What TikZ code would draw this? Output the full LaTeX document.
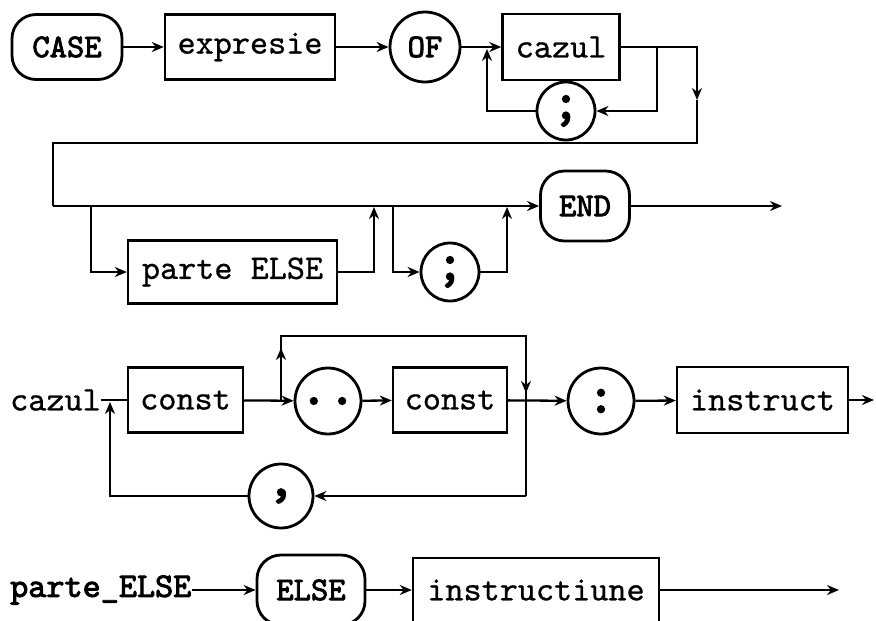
\documentclass[tikz,border=0pt]{standalone}
\usepackage{fontspec}
\newfontfamily\regtt[FakeBold=0.7]{lmmono10-regular.otf}
\newfontfamily\boldtt[FakeBold=2.6]{lmmono10-regular.otf}
\usetikzlibrary{arrows.meta}
\begin{document}
\begin{tikzpicture}[x=1pt,y=-1pt,
  every node/.style={font=\regtt\fontsize{34.5}{38}\selectfont, inner sep=0pt},
  line/.style={line width=2.3pt, line join=miter},
  arr/.style={line, -{Stealth[length=12pt,width=10pt]}},
  box/.style={draw, line width=2.4pt, rectangle},
  kw/.style={draw, line width=2.8pt, rounded corners=24pt, font=\boldtt\fontsize{33}{38}\selectfont},
  circ/.style={draw, circle, line width=2.8pt, font=\boldtt\fontsize{33}{38}\selectfont},
  punct/.style={circ, font=\boldtt\fontsize{54}{56}\selectfont},
]
\useasboundingbox (0,0) rectangle (876,621);

% ---------- Row 1 ----------
\node[kw, minimum width=110pt, minimum height=65pt] (case) at (67,47) {CASE};
\node[box, minimum width=170pt, minimum height=65pt] (expr) at (250,47) {expresie};
\node[circ, minimum size=70pt] (of) at (425,47) {OF};
\node[box, minimum width=117pt, minimum height=66pt] (cazul) at (561,47) {cazul};
\node[punct, minimum size=58pt] (semi1) at (566,111) {;};

\coordinate (j1) at (657,47);
\coordinate (j1b) at (657,111);
\coordinate (j2b) at (487,111);
\coordinate (j2) at (487,49);
\coordinate (k1) at (697,47);
\coordinate (k1d) at (697,100);
\coordinate (k2) at (697,143);
\coordinate (k3) at (53,143);
\coordinate (k4) at (53,206);

\draw[arr] (case) -- (expr);
\draw[arr] (expr) -- (of);
\draw[arr] (of) -- (cazul);
\draw[arr] (cazul.east) -- (k1) -- (k1d);
\draw[line] (k1d) -- (k2) -- (k3) -- (k4);
\draw[arr] (j1) -- (j1b) -- (semi1);
\draw[arr] (semi1) -- (j2b) -- (j2);

% ---------- Row 2 ----------
\node[kw, minimum width=89pt, minimum height=70pt] (endn) at (585,206) {END};
\node[box, minimum width=209pt, minimum height=63pt] (pelse) at (232.5,272) {parte ELSE};
\node[punct, minimum size=58pt] (semi2) at (450,272) {;};

\coordinate (b1) at (91,206);
\coordinate (b1d) at (91,272);
\coordinate (b2d) at (374,272);
\coordinate (b2) at (374,207);
\coordinate (b3) at (393,206);
\coordinate (b3d) at (393,272);
\coordinate (b4d) at (507,272);
\coordinate (b4) at (507,207);
\coordinate (endout) at (782,206);

\draw[arr] (k4) -- (endn);
\draw[arr] (b1) -- (b1d) -- (pelse);
\draw[arr] (pelse) -- (b2d) -- (b2);
\draw[arr] (b3) -- (b3d) -- (semi2);
\draw[arr] (semi2) -- (b4d) -- (b4);
\draw[arr] (endn) -- (endout);

% ---------- Row 3 ----------
\node[anchor=west] (lab1) at (10,400) {cazul};
\node[box, minimum width=115pt, minimum height=65pt] (const1) at (185.5,400) {const};
\node[punct, minimum size=66pt] (dots) at (328,401) {..};
\node[box, minimum width=114pt, minimum height=65pt] (const2) at (450,400) {const};
\node[punct, minimum size=66pt] (colon) at (601,401) {:};
\node[box, minimum width=171pt, minimum height=66pt] (instr) at (762.5,400) {instruct};
\node[punct, minimum size=64pt] (comma) at (281,496) {,};

\coordinate (c1) at (281,400);
\coordinate (c1u) at (281,348);
\coordinate (c1t) at (281,336);
\coordinate (c2t) at (526,336);
\coordinate (c2) at (526,393);
\coordinate (c5) at (526,496);
\coordinate (c6) at (110,496);
\coordinate (c7) at (110,402);
\coordinate (iout) at (874,400);

\draw[line] (lab1) -- (const1);
\draw[line] (c1) -- (c1t) -- (c2t) -- (c5);
\draw[arr] (c1) -- (c1u);
\draw[arr] (c2t) -- (c2);
\draw[arr] (const1) -- (dots);
\draw[arr] (dots) -- (const2);
\draw[arr] (const2) -- (colon);
\draw[arr] (colon) -- (instr);
\draw[arr] (instr) -- (iout);
\draw[arr] (c5) -- (comma);
\draw[arr] (comma) -- (c6) -- (c7);

% ---------- Row 4 ----------
\node[anchor=west, font=\boldtt\fontsize{34.5}{38}\selectfont] (lab2) at (10,590) {parte\_ELSE};
\node[kw, minimum width=108pt, minimum height=70pt] (elsen) at (311,590) {ELSE};
\node[box, minimum width=246pt, minimum height=64pt] (instr2) at (536,590) {instructiune};
\coordinate (out2) at (839,590);

\draw[arr] (lab2) -- (elsen);
\draw[arr] (elsen) -- (instr2);
\draw[arr] (instr2) -- (out2);
\end{tikzpicture}
\end{document}
